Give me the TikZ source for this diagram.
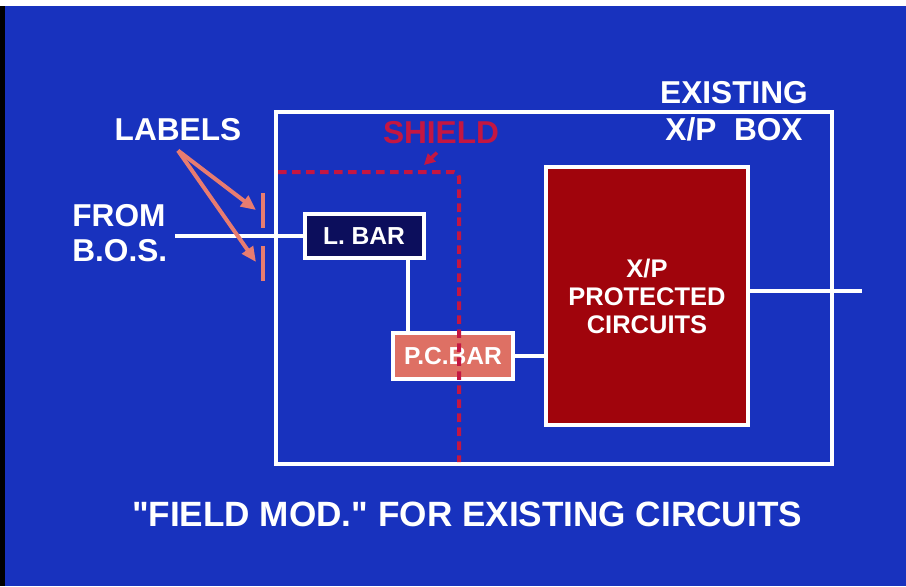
\documentclass[tikz,border=0pt]{standalone}
\usepackage{fontspec}
\setmainfont{Liberation Sans}
\usepackage{tikz}
\usetikzlibrary{positioning}
\usetikzlibrary{arrows.meta}

\definecolor{slideblue}{RGB}{24,50,190}
\definecolor{navybar}{RGB}{12,14,92}
\definecolor{salmonbar}{RGB}{222,112,100}
\definecolor{xpred}{RGB}{160,4,12}
\definecolor{labelpink}{RGB}{232,124,112}
\definecolor{shieldred}{RGB}{196,22,66}

\begin{document}
\begin{tikzpicture}[
    x=0.2mm, y=-0.2mm,
    wire/.style={white, line width=0.8mm},
    whitebox/.style={draw=white, line width=0.8mm, inner sep=0pt, text=white,
      align=center, font=\bfseries\fontsize{14}{16}\selectfont},
    slidetext/.style={text=white, inner sep=0pt, align=center,
      font=\bfseries\fontsize{18}{21}\selectfont},
    labelmark/.style={labelpink, line width=0.8mm},
    labelarrow/.style={labelpink, line width=0.8mm,
      -{Triangle[length=3mm,width=2.6mm]}},
    shieldline/.style={shieldred, line width=0.8mm, dash pattern=on 1.7mm off 1.1mm}]

    % fondo della diapositiva
    \fill[white] (0,0) rectangle (906,6);
    \fill[slideblue] (0,6) rectangle (906,586);
    \fill[black] (0,6) rectangle (5,586);

    % scatola esistente e blocchi
    \node[whitebox, minimum width=111.2mm, minimum height=70.4mm] (xpbox) at (554,288) {};
    \node[whitebox, fill=navybar, minimum width=23.8mm, minimum height=8.8mm] (lbar) at (364,236) {L.~BAR};
    \node[whitebox, fill=salmonbar, minimum width=24mm, minimum height=9.2mm] (pcbar) at (453,356) {P.C.BAR};
    \node[whitebox, fill=xpred, minimum width=40.4mm, minimum height=51.6mm,
      font=\bfseries\fontsize{14.5}{16}\selectfont] (xpcirc) at (647,296) {X/P\\PROTECTED\\CIRCUITS};

    % collegamenti
    \coordinate (bos) at (175,236);
    \coordinate (out) at (862,291);
    \draw[wire] (bos) -- (lbar.west);
    \draw[wire] ([xshift=8.7mm]lbar.south) coordinate (tap) -- (tap |- pcbar.north);
    \draw[wire] (pcbar.east) -- (pcbar.east -| xpcirc.west);
    \draw[wire] (xpcirc.east |- out) -- (out);

    % testi
    \node[slidetext] (labels) at (178,130) {LABELS};
    \node[slidetext, align=left, anchor=west, font=\bfseries\fontsize{18}{19.5}\selectfont] (from) at (72,233) {FROM\\B.O.S.};
    \node[slidetext, font=\bfseries\fontsize{18}{21}\selectfont] (existing) at (734,111) {EXISTING\\X/P~~BOX};
    \node[slidetext, font=\bfseries\fontsize{20}{24}\selectfont] (caption) at (467,514)
      {\textquotedbl FIELD~MOD.\textquotedbl{}~FOR~EXISTING~CIRCUITS};

    % etichette
    \coordinate (marka) at (263,193);
    \coordinate (markb) at (263,228);
    \coordinate (markc) at (263,246);
    \coordinate (markd) at (263,281);
    \draw[labelmark] (marka) -- (markb);
    \draw[labelmark] (markc) -- (markd);
    \draw[labelarrow] ([yshift=-1.8mm]labels.south) -- (256,210);
    \draw[labelarrow] ([yshift=-1.8mm]labels.south) -- (256,262);

    % schermo
    \coordinate (shtop) at (278,172);
    \coordinate (shcorner) at (459,172);
    \coordinate (shfoot) at (459,462);
    \draw[shieldline, rounded corners=1mm] (shtop) -- (shcorner) -- (shfoot);
    \node[slidetext, text=shieldred] (shield) at (441,133) {SHIELD};
    \draw[shieldred, line width=0.7mm, -{Triangle[length=2.2mm,width=2.2mm]}]
      ([xshift=-0.8mm,yshift=-1.6mm]shield.south) -- (424,165);
\end{tikzpicture}
\end{document}
